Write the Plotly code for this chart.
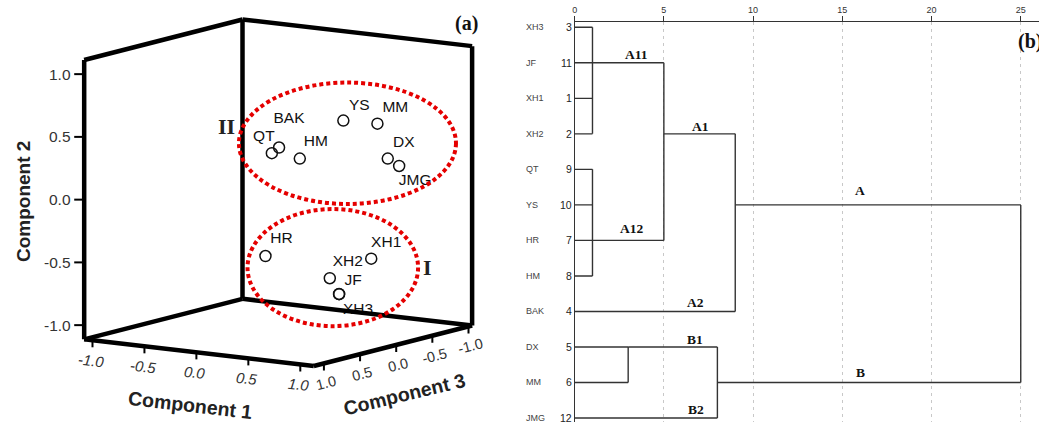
import plotly.graph_objects as go

# ---------------- Panel (a): PCA scores (3 components) ----------------
pca_labels = ["YS", "MM", "BAK", "QT", "HM", "DX", "JMG", "HR", "XH1", "XH2", "JF", "XH3"]
component1 = [0.83, 0.81, 0.42, 0.42, 0.55, 0.84, 0.88, 0.15, 0.82, 0.63, 0.65, 0.58]
component2 = [0.69, 0.59, 0.48, 0.45, 0.39, 0.30, 0.23, -0.44, -0.47, -0.60, -0.74, -0.76]
component3 = [0.30, -0.20, 0.60, 0.70, 0.50, -0.30, -0.40, 0.40, -0.10, 0.20, 0.10, 0.00]
group_II = ["BAK", "QT", "HM", "YS", "MM", "DX", "JMG"]
group_I = ["HR", "XH1", "XH2", "JF", "XH3"]
component_ticks = [-1.0, -0.5, 0.0, 0.5, 1.0]
component_tick_text = ["-1.0", "-0.5", "0.0", "0.5", "1.0"]

# ---------------- Panel (b): dendrogram ----------------
leaf_labels = ["XH3", "JF", "XH1", "XH2", "QT", "YS", "HR", "HM", "BAK", "DX", "MM", "JMG"]
case_numbers = [3, 11, 1, 2, 9, 10, 7, 8, 4, 5, 6, 12]
merge_names = ["n1", "n2", "A1", "A", "B1", "B", "root"]
merge_children = [["XH3", "JF", "XH1", "XH2"], ["QT", "YS", "HR", "HM"], ["n1", "n2"],
                  ["A1", "BAK"], ["DX", "MM"], ["B1", "JMG"], ["A", "B"]]
merge_heights = [1, 1, 5, 9, 3, 8, 25]
merge_anchor = ["JF", "HR", "XH2", "YS", "DX", "MM", "YS"]
distance_ticks = [0, 5, 10, 15, 20, 25]
cluster_names = ["A11", "A12", "A1", "A2", "A", "B1", "B2", "B"]
cluster_branch = ["n1", "n2", "A1", "BAK", "A", "B1", "JMG", "B"]

# ---------------- style / layout parameters ----------------
W, H = 1039, 422
PANEL_A_W = 500
C1_RANGE = (-1.08, 1.13)
C2_RANGE = (-1.113, 1.113)
C3_RANGE = (-1.05, 1.14)
PROJ = dict(x0=276.6, y0=191.6, ax=104.2, bx=-72.5, cy=12.08, dy=18.5, ey=125.5)
SANS = "Liberation Sans, Arial, sans-serif"
SERIF = "Liberation Serif, Times New Roman, serif"

label_offsets = {"YS": (16, -14), "MM": (18, -16), "BAK": (10, -28), "QT": (-8, -16),
                 "HM": (16, -16), "DX": (16, -15), "JMG": (16, 15), "HR": (16, -17),
                 "XH1": (15, -16), "XH2": (18, -16), "JF": (14, -13), "XH3": (19, 16)}
ellipse_pads = {"II": (33, 57, 38, 38), "I": (18, 47, 47, 32)}  # left, right, top, bottom
cluster_label_x = [3.46, 3.2, 7.08, 6.8, 15.98, 6.76, 6.8, 16.0]
cluster_label_shift = [8, 12, 7, 9, 14, 7, 9, 10]

DX0 = 573.3          # pixel of distance 0
DX25 = 1020.7        # pixel of distance 25
TOP_AXIS_Y = 22.3
ROW1_Y, ROW12_Y = 27.3, 418.0


def proj(c1, c2, c3):
    p = PROJ
    sx = p["x0"] + p["ax"] * c1 + p["bx"] * c3
    sy = p["y0"] + p["cy"] * c1 + p["dy"] * c3 - p["ey"] * c2
    return sx, sy


fig = go.Figure()

# ---- point labels (drawn first so box lines pass over them) ----
pts = [proj(a, b, c) for a, b, c in zip(component1, component2, component3)]
lx = [p[0] + label_offsets[n][0] for p, n in zip(pts, pca_labels)]
ly = [p[1] + label_offsets[n][1] for p, n in zip(pts, pca_labels)]
fig.add_trace(go.Scatter(x=lx, y=ly, mode="text", text=pca_labels, textposition="middle center",
                         textfont=dict(family=SANS, size=15.5, color="#111"),
                         hoverinfo="skip", xaxis="x", yaxis="y"))

# ---- markers ----
fig.add_trace(go.Scatter(x=[p[0] for p in pts], y=[p[1] for p in pts], mode="markers",
                         marker=dict(symbol="circle-open", size=11, color="#111",
                                     line=dict(width=1.5, color="#111")),
                         text=pca_labels, xaxis="x", yaxis="y"))

# ---- 3D box (three back walls) ----
a0, a1 = C1_RANGE
b0, b1 = C2_RANGE
c0, c1 = C3_RANGE
edges = [((a0, b0, c1), (a0, b1, c1)), ((a0, b0, c0), (a0, b1, c0)), ((a1, b0, c0), (a1, b1, c0)),
         ((a0, b1, c1), (a0, b1, c0)), ((a0, b1, c0), (a1, b1, c0)),
         ((a0, b0, c1), (a1, b0, c1)), ((a1, b0, c1), (a1, b0, c0)),
         ((a1, b0, c0), (a0, b0, c0)), ((a0, b0, c0), (a0, b0, c1))]
bx, by = [], []
for e0, e1 in edges:
    p0, p1 = proj(*e0), proj(*e1)
    bx += [p0[0], p1[0], None]
    by += [p0[1], p1[1], None]
fig.add_trace(go.Scatter(x=bx, y=by, mode="lines", line=dict(color="black", width=4.5),
                         hoverinfo="skip", xaxis="x", yaxis="y"))

# ---- tick marks ----
tx, ty = [], []
annotations = []
for v, t in zip(component_ticks, component_tick_text):
    # component 2 (vertical, left front edge)
    sx, sy = proj(a0, v, c1)
    tx += [sx - 10, sx, None]
    ty += [sy, sy, None]
    annotations.append(dict(x=sx - 11, y=sy, xref="x", yref="y", text=t, showarrow=False,
                            xanchor="right", yanchor="middle",
                            font=dict(family=SANS, size=15.5, color="#333")))
    # component 1 (front-left floor edge)
    sx, sy = proj(v, b0, c1)
    tx += [sx, sx, None]
    ty += [sy, sy + 7, None]
    annotations.append(dict(x=sx - 1, y=sy + 20, xref="x", yref="y", text="<i>" + t + "</i>",
                            showarrow=False, textangle=6.6,
                            font=dict(family=SANS, size=15, color="#333")))
    # component 3 (front-right floor edge)
    sx, sy = proj(a1, b0, v)
    tx += [sx, sx, None]
    ty += [sy, sy + 7, None]
    annotations.append(dict(x=sx + 2, y=sy + 20, xref="x", yref="y", text=t,
                            showarrow=False, textangle=-14,
                            font=dict(family=SANS, size=14.5, color="#333")))
fig.add_trace(go.Scatter(x=tx, y=ty, mode="lines", line=dict(color="black", width=2),
                         hoverinfo="skip", xaxis="x", yaxis="y"))

# ---- axis titles ----
mx, my = proj(0, b0, c1)
annotations.append(dict(x=mx - 5.5, y=my + 52.5, xref="x", yref="y", text="<b>Component 1</b>",
                        showarrow=False, textangle=6.6,
                        font=dict(family=SANS, size=19.5, color="#222")))
mx, my = proj(a1, b0, (c0 + c1) / 2)
annotations.append(dict(x=mx + 12, y=my + 48, xref="x", yref="y", text="<b>Component 3</b>",
                        showarrow=False, textangle=-13.5,
                        font=dict(family=SANS, size=19.5, color="#222")))
mx, my = proj(a0, 0, c1)
annotations.append(dict(x=mx - 61, y=my + 2, xref="x", yref="y", text="<b>Component 2</b>",
                        showarrow=False, textangle=-90,
                        font=dict(family=SANS, size=19, color="#222")))

# ---- red dotted ellipses around groups ----
shapes = []
roman_pos = {}
for gname, members in (("II", group_II), ("I", group_I)):
    gx = [pts[pca_labels.index(m)][0] for m in members]
    gy = [pts[pca_labels.index(m)][1] for m in members]
    pl, pr, pt, pb = ellipse_pads[gname]
    x0e, x1e, y0e, y1e = min(gx) - pl, max(gx) + pr, min(gy) - pt, max(gy) + pb
    shapes.append(dict(type="circle", xref="x", yref="y", x0=x0e, x1=x1e, y0=y0e, y1=y1e,
                       line=dict(color="#e50000", width=4, dash="4px,3px")))
    roman_pos[gname] = (x0e, x1e, (y0e + y1e) / 2)

annotations.append(dict(x=roman_pos["II"][0] - 12.5, y=roman_pos["II"][2] - 17, xref="x", yref="y",
                        text="<b>II</b>", showarrow=False,
                        font=dict(family=SERIF, size=22, color="#222")))
annotations.append(dict(x=roman_pos["I"][1] + 9.5, y=roman_pos["I"][2] - 0.5, xref="x", yref="y",
                        text="<b>I</b>", showarrow=False,
                        font=dict(family=SERIF, size=22, color="#222")))
annotations.append(dict(x=465, y=23.5, xref="x", yref="y", text="<b>(a)</b>", showarrow=False,
                        font=dict(family=SERIF, size=20, color="#111")))

# ---------------- dendrogram ----------------
row_of = {n: i + 1 for i, n in enumerate(leaf_labels)}
height = {n: 0 for n in leaf_labels}
anchor = dict(row_of)
dx_, dy_ = [], []
for name, children, h, anc in zip(merge_names, merge_children, merge_heights, merge_anchor):
    rows = [anchor[c] for c in children]
    for c in children:
        dx_ += [height[c], h, None]
        dy_ += [anchor[c], anchor[c], None]
    dx_ += [h, h, None]
    dy_ += [min(rows), max(rows), None]
    height[name] = h
    anchor[name] = row_of[anc]

fig.add_trace(go.Scatter(x=dx_, y=dy_, mode="lines", line=dict(color="#333", width=1.4),
                         hoverinfo="skip", xaxis="x2", yaxis="y2", cliponaxis=False))

for lab, xl, ys in zip(cluster_names, cluster_label_x, cluster_label_shift):
    annotations.append(dict(x=xl, y=anchor[cluster_branch[cluster_names.index(lab)]],
                            xref="x2", yref="y2", yshift=ys, text="<b>" + lab + "</b>",
                            showarrow=False, yanchor="middle",
                            font=dict(family=SERIF, size=13.5, color="#111")))

for name, num in zip(leaf_labels, case_numbers):
    annotations.append(dict(x=523 / W, y=row_of[name], xref="paper", yref="y2", text=name,
                            showarrow=False, xanchor="left", yanchor="middle",
                            font=dict(family=SANS, size=9, color="#444")))
    annotations.append(dict(x=572.5 / W, y=row_of[name], xref="paper", yref="y2", text=str(num),
                            showarrow=False, xanchor="right", yanchor="middle",
                            font=dict(family=SANS, size=10.5, color="#222")))

annotations.append(dict(x=1016 / W, y=1 - 41.5 / H, xref="paper", yref="paper", text="<b>(b)</b>",
                        showarrow=False, xanchor="left", yanchor="middle",
                        font=dict(family=SERIF, size=20, color="#111")))

unit = (DX25 - DX0) / 25
row_px = (ROW12_Y - ROW1_Y) / 11

fig.update_layout(
    width=W, height=H, margin=dict(l=0, r=0, t=0, b=0),
    paper_bgcolor="white", plot_bgcolor="rgba(0,0,0,0)", showlegend=False,
    xaxis=dict(domain=[0, PANEL_A_W / W], range=[0, PANEL_A_W], visible=False, fixedrange=True),
    yaxis=dict(domain=[0, 1], range=[H, 0], visible=False, fixedrange=True),
    xaxis2=dict(domain=[DX0 / W, 1], range=[0, (W - DX0) / unit], anchor="y2", side="top",
                showline=True, linecolor="#333", linewidth=1.3, ticks="outside", ticklen=5,
                tickwidth=1, tickcolor="#333", tickvals=distance_ticks,
                tickfont=dict(family=SANS, size=9, color="#333"),
                showgrid=True, gridcolor="#c8c8c8", gridwidth=1, griddash="3px,4px",
                zeroline=False),
    yaxis2=dict(domain=[0, 1 - TOP_AXIS_Y / H],
                range=[12 + (H - ROW12_Y) / row_px, 1 - (ROW1_Y - TOP_AXIS_Y) / row_px],
                anchor="x2", showline=True, linecolor="#333", linewidth=1.3,
                showticklabels=False, showgrid=False, zeroline=False, ticks=""),
    shapes=shapes, annotations=annotations,
)

fig.write_html("out.html", config={"displayModeBar": False},
               post_script="document.body.style.margin='0';document.body.style.overflow='hidden';")
